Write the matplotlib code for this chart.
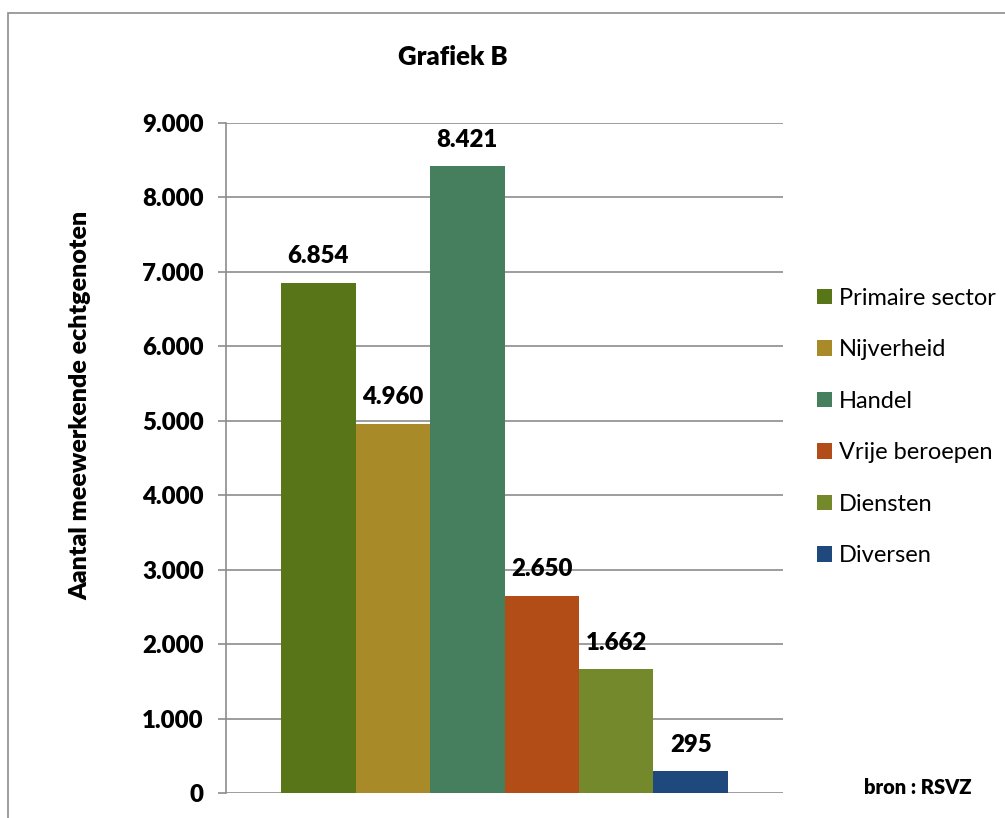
import matplotlib.pyplot as plt
from matplotlib.patches import Patch, Rectangle

plt.rcParams['font.family'] = ['Lato', 'DejaVu Sans']

sectors = ['Primaire sector', 'Nijverheid', 'Handel', 'Vrije beroepen', 'Diensten', 'Diversen']
values = [6854, 4960, 8421, 2650, 1662, 295]
colors = ['#587618', '#A88A29', '#467F5E', '#B34D17', '#74892B', '#1F497D']
yticks = [0, 1000, 2000, 3000, 4000, 5000, 6000, 7000, 8000, 9000]

BOLD = 800


def fmt(v):
    # Belgische notatie: punt als duizendtalscheiding
    return f'{v:,}'.replace(',', '.')


fig = plt.figure(figsize=(10.05, 8.18), dpi=100)
ax = fig.add_axes([0.2249, 0.0306, 0.5542, 0.819])

# grijze kader rond de grafiek (rechts en onder afgesneden)
fig.patches.append(Rectangle((8 / 1005, -0.1), 1.2, 1 - 13 / 818 + 0.1, transform=fig.transFigure,
                             fill=False, edgecolor='#8c8c8c', linewidth=1.2))

xs = list(range(len(values)))
bars = ax.bar(xs, values, width=1.0, color=colors, zorder=3)
for x, v in zip(xs, values):
    ax.annotate(fmt(v), (x, v), xytext=(0, 11), textcoords='offset points',
                ha='center', va='bottom', fontsize=17.3, fontweight=BOLD)

ax.set_xlim(-1.24, 6.24)
ax.set_ylim(0, 9000)
ax.set_yticks(yticks)
ax.set_yticklabels([fmt(t) for t in yticks], fontsize=17.3, fontweight=BOLD)
ax.set_xticks([])
ax.grid(axis='y', color='#8c8c8c', linewidth=1.2, zorder=0)
ax.tick_params(axis='y', length=6, color='#8c8c8c', width=1.2, pad=10)
for side in ['top', 'right', 'bottom']:
    ax.spines[side].set_visible(False)
ax.spines['left'].set_color('#8c8c8c')
ax.spines['left'].set_linewidth(1.2)

ax.set_ylabel('Aantal meewerkende echtgenoten', fontsize=18, fontweight=BOLD, va='center')
ax.yaxis.set_label_coords(-0.262, 0.578)
fig.text(453 / 1005, 1 - 57 / 818, 'Grafiek B', ha='center', va='center',
         fontsize=18.5, fontweight=BOLD)
fig.text(918 / 1005, 1 - 787 / 818, 'bron : RSVZ', ha='center', va='center',
         fontsize=14.5, fontweight=BOLD)

handles = [Patch(facecolor=c) for c in colors]
fig.legend(handles, sectors, loc='center left', bbox_to_anchor=(817 / 1005, 1 - 427 / 818),
           frameon=False, fontsize=17, handlelength=0.64, handleheight=0.64,
           handletextpad=0.3, labelspacing=1.29, borderpad=0, borderaxespad=0)

fig.savefig('out.png', dpi=100)
